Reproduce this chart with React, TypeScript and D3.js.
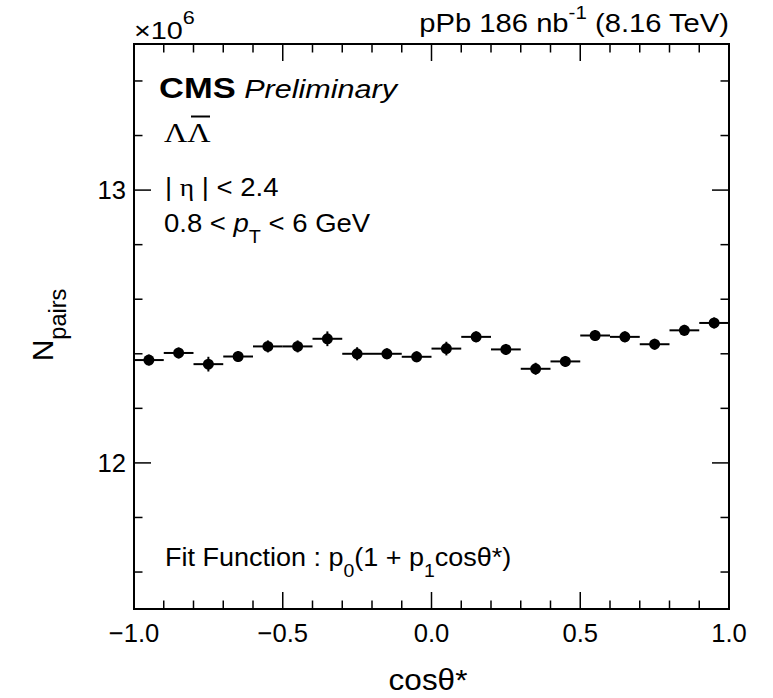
import React from "react";
import * as d3 from "d3";

// ---- data (values in units of 10^6 pairs) ----
const binCenters = [-0.95, -0.85, -0.75, -0.65, -0.55, -0.45, -0.35, -0.25, -0.15, -0.05,
  0.05, 0.15, 0.25, 0.35, 0.45, 0.55, 0.65, 0.75, 0.85, 0.95];
const binHalfWidth = 0.05;
const nPairs = [12.377, 12.403, 12.362, 12.390, 12.427, 12.427, 12.455, 12.400, 12.400, 12.389,
  12.419, 12.462, 12.416, 12.345, 12.372, 12.467, 12.462, 12.435, 12.486, 12.513];
const nPairsErr = [0.020, 0.020, 0.027, 0.020, 0.022, 0.022, 0.027, 0.024, 0.020, 0.020,
  0.025, 0.020, 0.020, 0.022, 0.020, 0.020, 0.020, 0.020, 0.020, 0.020];
const xMajorTicks = [-1.0, -0.5, 0.0, 0.5, 1.0];
const xTickLabels = ["\u22121.0", "\u22120.5", "0.0", "0.5", "1.0"];
const yMajorTicks = [12, 13];
const yTickLabels = ["12", "13"];
const xDomain = [-1, 1];
const yDomain = [11.4645, 13.5355];

const W = 773, H = 698;
const L = 134, R = 729, T = 44, B = 609;
const SANS = "'Liberation Sans', Arial, Helvetica, sans-serif";
const SERIF = "'Liberation Serif', 'Times New Roman', serif";

function Txt({ x, y, sx = 1, anchor = "start", size, family = SANS, children, ...rest }: any) {
  return (
    <g transform={`translate(${x},${y}) scale(${sx},1)`}>
      <text x={0} y={0} textAnchor={anchor} fontFamily={family} fontSize={size} {...rest}>{children}</text>
    </g>
  );
}

export default function App() {
  const x = d3.scaleLinear().domain(xDomain).range([L, R]);
  const y = d3.scaleLinear().domain(yDomain).range([B, T]);
  const xMinor = d3.range(-10, 11).map((i) => i / 10).filter((v) => Math.abs(v * 2 - Math.round(v * 2)) > 1e-6);
  const yMinor = d3.range(58, 68).map((i) => i / 5).filter((v) => v > yDomain[0] && v < yDomain[1] && Math.abs(v - Math.round(v)) > 1e-6);
  const MAJ = 17, MIN = 8.5;
  const tickStroke = { stroke: "#000", strokeWidth: 1.5 };
  return (
    <svg width={W} height={H} style={{ position: "absolute", left: 0, top: 0, background: "#fff" }}>
      <rect x={0} y={0} width={W} height={H} fill="#fff" />
      {/* ticks */}
      <g>
        {xMajorTicks.map((v, i) => (
          <g key={"xM" + i}>
            <line x1={x(v)} x2={x(v)} y1={B} y2={B - MAJ} {...tickStroke} />
            <line x1={x(v)} x2={x(v)} y1={T} y2={T + MAJ} {...tickStroke} />
          </g>
        ))}
        {xMinor.map((v, i) => (
          <g key={"xm" + i}>
            <line x1={x(v)} x2={x(v)} y1={B} y2={B - MIN} {...tickStroke} />
            <line x1={x(v)} x2={x(v)} y1={T} y2={T + MIN} {...tickStroke} />
          </g>
        ))}
        {yMajorTicks.map((v, i) => (
          <g key={"yM" + i}>
            <line x1={L} x2={L + MAJ} y1={y(v)} y2={y(v)} {...tickStroke} />
            <line x1={R} x2={R - MAJ} y1={y(v)} y2={y(v)} {...tickStroke} />
          </g>
        ))}
        {yMinor.map((v, i) => (
          <g key={"ym" + i}>
            <line x1={L} x2={L + MIN} y1={y(v)} y2={y(v)} {...tickStroke} />
            <line x1={R} x2={R - MIN} y1={y(v)} y2={y(v)} {...tickStroke} />
          </g>
        ))}
      </g>
      {/* frame */}
      <rect x={L} y={T} width={R - L} height={B - T} fill="none" stroke="#000" strokeWidth={2} />
      {/* tick labels */}
      {xMajorTicks.map((v, i) => (
        <text key={"xl" + i} x={x(v)} y={642} textAnchor="middle" fontFamily={SANS} fontSize={25.6}>{xTickLabels[i]}</text>
      ))}
      {yMajorTicks.map((v, i) => (
        <text key={"yl" + i} x={L - 8} y={y(v) + 9} textAnchor="end" fontFamily={SANS} fontSize={25.6}>{yTickLabels[i]}</text>
      ))}
      {/* data */}
      <g>
        {binCenters.map((c, i) => (
          <g key={"p" + i}>
            <line x1={x(c - binHalfWidth)} x2={x(c + binHalfWidth)} y1={y(nPairs[i])} y2={y(nPairs[i])} stroke="#000" strokeWidth={2} />
            <line x1={x(c)} x2={x(c)} y1={y(nPairs[i] - nPairsErr[i])} y2={y(nPairs[i] + nPairsErr[i])} stroke="#000" strokeWidth={2} />
            <circle cx={x(c)} cy={y(nPairs[i])} r={5.5} fill="#000" />
          </g>
        ))}
      </g>
      {/* exponent */}
      <Txt x={L} y={39} sx={1.2} size={24}>
        ×10<tspan fontSize={18} dy={-15}>6</tspan>
      </Txt>
      {/* lumi */}
      <Txt x={R} y={32} sx={1.14} anchor="end" size={25.6}>
        pPb 186 nb<tspan fontSize={18} dy={-13}>-1</tspan><tspan dy={13}> (8.16 TeV)</tspan>
      </Txt>
      {/* CMS label */}
      <Txt x={159} y={97.5} sx={1.15} size={30}>
        <tspan fontWeight="bold">CMS</tspan><tspan fontStyle="italic" fontSize={26.6}> Preliminary</tspan>
      </Txt>
      <Txt x={164} y={141.7} sx={1.15} size={28} family={SERIF}>ΛΛ</Txt>
      <line x1={191} x2={210} y1={116.5} y2={116.5} stroke="#000" strokeWidth={2} />
      <Txt x={165} y={196} sx={1.1} size={25}>
        | <tspan fontFamily={SERIF}>η</tspan> | &lt; 2.4
      </Txt>
      <Txt x={164} y={231.7} sx={1.1} size={25}>
        0.8 &lt; <tspan fontStyle="italic">p</tspan><tspan fontSize={18} dy={11}>T</tspan><tspan dy={-11}> &lt; 6 GeV</tspan>
      </Txt>
      <Txt x={165} y={566} sx={1.08} size={25}>
        Fit Function : p<tspan fontSize={18} dy={11}>0</tspan><tspan dy={-11}>(1 + p</tspan><tspan fontSize={18} dy={11}>1</tspan><tspan dy={-11}>cosθ*)</tspan>
      </Txt>
      {/* axis titles */}
      <Txt x={428} y={690} sx={1.05} anchor="middle" size={30}>cosθ*</Txt>
      <text transform={`translate(53, 325) rotate(-90)`} textAnchor="middle" fontFamily={SANS} fontSize={30}>
        N<tspan fontSize={23.5} dy={13}>pairs</tspan>
      </text>
    </svg>
  );
}
